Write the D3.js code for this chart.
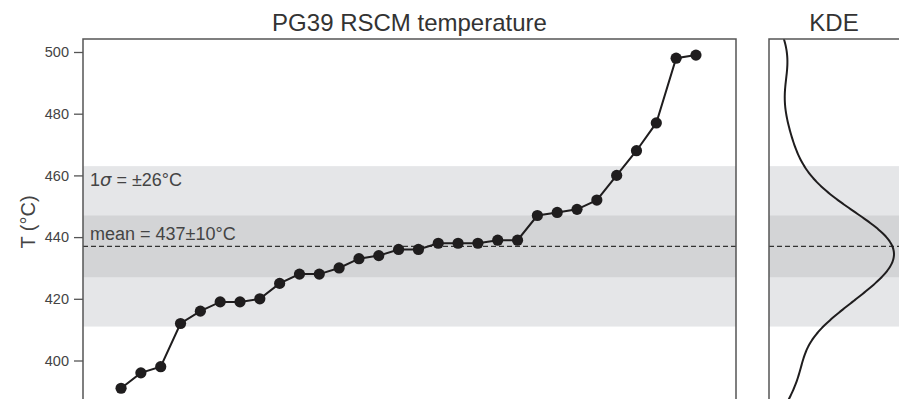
<!DOCTYPE html>
<head>
    <meta charset='utf-8'>
    <title>PG39 RSCM temperature</title>
    <script src='https://d3js.org/d3.v7.min.js'></script>
    <style>
        html, body {
            margin: 0px;
            padding: 0px;
            background: white;
        }
        svg text {
            font-family: 'Liberation Sans', Arial, sans-serif;
        }
    </style>
</head>
<body>
    <svg id='chart' width='899' height='399'></svg>

    <script>
        // RSCM temperatures (°C), sorted
        var temps = [391, 396, 398, 412, 416, 419, 419, 420, 425, 428,
                     428, 430, 433, 434, 436, 436, 438, 438, 438, 439,
                     439, 447, 448, 449, 452, 460, 468, 477, 498, 499];
        var samples = d3.range(1, temps.length + 1);
        var yTicks = [400, 420, 440, 460, 480, 500];
        var meanT = 437;
        var sigmaT = 26;
        var errT = 10;
        var kdeBandwidth = 10;

        var svg = d3.select('#chart');

        var main = {left: 83, right: 736, top: 39, bottom: 430};
        var side = {left: 769, right: 900};

        var y = d3.scaleLinear().domain([400, 500]).range([360.5, 52]);
        var x = d3.scaleLinear().domain([-0.92, 32.02]).range([main.left, main.right]);

        // bands behind both panels
        [[main.left, main.right], [side.left, side.right]].forEach(function(p){
            svg.append('rect')
                .attr('x', p[0]).attr('width', p[1] - p[0])
                .attr('y', y(meanT + sigmaT)).attr('height', y(meanT - sigmaT) - y(meanT + sigmaT))
                .attr('fill', '#e5e6e8');
            svg.append('rect')
                .attr('x', p[0]).attr('width', p[1] - p[0])
                .attr('y', y(meanT + errT)).attr('height', y(meanT - errT) - y(meanT + errT))
                .attr('fill', '#d3d4d6');
            svg.append('line')
                .attr('x1', p[0]).attr('x2', p[1])
                .attr('y1', y(meanT)).attr('y2', y(meanT))
                .attr('stroke', '#333').attr('stroke-width', 1.3)
                .attr('stroke-dasharray', '5,3');
        });

        // annotations
        var t1 = svg.append('text').attr('x', 90).attr('y', 186)
            .attr('font-size', 18).attr('fill', '#444');
        t1.append('tspan').text('1');
        t1.append('tspan').attr('font-style', 'italic').style('font-family', 'DejaVu Sans').text('σ');
        t1.append('tspan').text(' = ±' + sigmaT + '°C');

        svg.append('text').attr('x', 90).attr('y', 240)
            .attr('font-size', 18).attr('fill', '#444')
            .text('mean = ' + meanT + '±' + errT + '°C');

        // temperature series
        var line = d3.line()
            .x(function(d, i){ return x(samples[i]); })
            .y(function(d){ return y(d); });

        svg.append('path')
            .datum(temps)
            .attr('d', line)
            .attr('fill', 'none')
            .attr('stroke', '#1f1d1e')
            .attr('stroke-width', 2);

        svg.selectAll('circle.pt')
            .data(temps)
            .enter()
            .append('circle')
            .attr('class', 'pt')
            .attr('cx', function(d, i){ return x(samples[i]); })
            .attr('cy', function(d){ return y(d); })
            .attr('r', 5.6)
            .attr('fill', '#1f1d1e');

        // gaussian KDE of the temperatures
        var grid = d3.range(380, 510.5, 0.5);
        var kde = grid.map(function(t){
            var s = d3.sum(temps, function(v){
                var u = (t - v) / kdeBandwidth;
                return Math.exp(-0.5 * u * u);
            });
            return [t, s / (temps.length * kdeBandwidth * Math.sqrt(2 * Math.PI))];
        });
        var xk = d3.scaleLinear()
            .domain([0, d3.max(kde, function(d){ return d[1]; })])
            .range([side.left, 894]);

        svg.append('clipPath').attr('id', 'kclip')
            .append('rect').attr('x', side.left).attr('y', main.top)
            .attr('width', side.right - side.left).attr('height', main.bottom - main.top);

        svg.append('path')
            .datum(kde)
            .attr('clip-path', 'url(#kclip)')
            .attr('d', d3.line()
                .x(function(d){ return xk(d[1]); })
                .y(function(d){ return y(d[0]); })
                .curve(d3.curveBasis))
            .attr('fill', 'none')
            .attr('stroke', '#1f1d1e')
            .attr('stroke-width', 2);

        // frames
        svg.append('rect')
            .attr('x', main.left).attr('y', main.top)
            .attr('width', main.right - main.left).attr('height', main.bottom - main.top)
            .attr('fill', 'none').attr('stroke', '#555').attr('stroke-width', 1.5);
        svg.append('rect')
            .attr('x', side.left).attr('y', main.top)
            .attr('width', side.right - side.left + 20).attr('height', main.bottom - main.top)
            .attr('fill', 'none').attr('stroke', '#555').attr('stroke-width', 1.5);

        // y axis
        var yAxis = svg.append('g')
            .attr('transform', 'translate(' + main.left + ',0)')
            .call(d3.axisLeft(y).tickValues(yTicks).tickSize(9).tickPadding(5));
        yAxis.select('.domain').remove();
        yAxis.selectAll('line').attr('stroke', '#555').attr('stroke-width', 1.3);
        yAxis.selectAll('text')
            .attr('font-size', 14.5)
            .attr('fill', '#444')
            .style('font-family', "'Liberation Sans', Arial, sans-serif");

        svg.append('text')
            .attr('transform', 'translate(35,222) rotate(-90)')
            .attr('text-anchor', 'middle')
            .attr('font-size', 20)
            .attr('fill', '#444')
            .text('T (°C)');

        // titles
        svg.append('text')
            .attr('x', (main.left + main.right) / 2).attr('y', 31)
            .attr('text-anchor', 'middle')
            .attr('font-size', 24).attr('fill', '#333')
            .text('PG39 RSCM temperature');
        svg.append('text')
            .attr('x', 834).attr('y', 31)
            .attr('text-anchor', 'middle')
            .attr('font-size', 24).attr('fill', '#333')
            .text('KDE');
    </script>
</body>
